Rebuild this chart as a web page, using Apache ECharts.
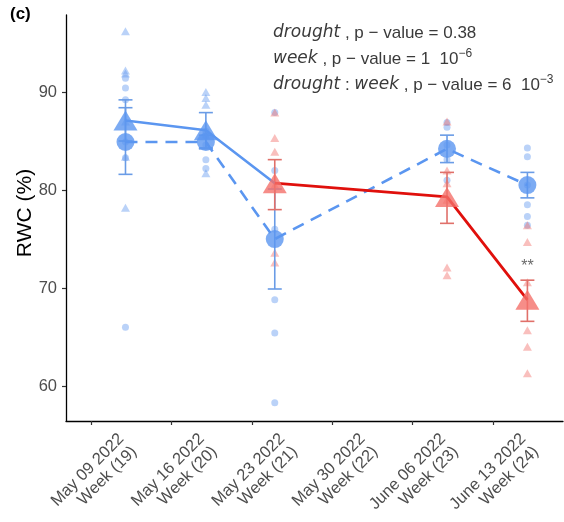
<!DOCTYPE html>
<html><head><meta charset="utf-8">
<script src="https://cdn.jsdelivr.net/npm/echarts@6/dist/echarts.min.js"></script>
<style>html,body{margin:0;padding:0;background:#fff}#c{width:564px;height:522px}</style>
</head><body><div id="c"></div>
<script>
// ---- data ----
const tickDays = [0, 7, 14, 21, 28, 35];          // days since May 09 2022
const tickLabels = ['May 09 2022\nWeek (19)', 'May 16 2022\nWeek (20)', 'May 23 2022\nWeek (21)',
                    'May 30 2022\nWeek (22)', 'June 06 2022\nWeek (23)', 'June 13 2022\nWeek (24)'];
const yTicks = [60, 70, 80, 90];
const sampleDays = [3, 10, 16, 31, 38];
const droughtPhase = ['pre', 'pre', 'post', 'post', 'post'];

const controlMean = [84.9, 84.9, 75.0, 84.2, 80.5];
const controlLow  = [81.6, 84.2, 69.9, 82.8, 79.2];
const controlHigh = [88.4, 85.6, 80.1, 85.6, 81.8];
const droughtMean = [87.1, 86.1, 80.7, 79.3, 68.8];
const droughtLow  = [85.0, 84.3, 78.0, 76.6, 66.6];
const droughtHigh = [89.2, 87.9, 83.1, 81.8, 70.8];

const controlRaw = [
  [91.4, 90.4, 89.2, 84.9, 83.3, 66.0],
  [86.0, 85.5, 84.6, 83.1, 82.2],
  [87.9, 82.0, 76.0, 68.8, 65.4, 58.3],
  [86.9, 86.4, 84.6, 83.1, 81.0],
  [84.3, 83.4, 80.5, 78.5, 77.3, 76.4]
];
const droughtRaw = [
  [96.2, 92.2, 91.9, 87.0, 83.4, 78.2],
  [90.0, 89.4, 88.7, 86.0, 85.6, 81.7],
  [87.9, 85.3, 83.9, 80.5, 73.6, 72.6],
  [87.0, 82.0, 80.7, 79.0, 72.1, 71.3],
  [76.4, 74.7, 70.6, 65.7, 64.0, 61.3]
];
const sigMarks = [{ day: 38, value: 72.2, text: '**' }];

// ---- styles ----
const BLUE = '#5B96F0', RED = '#F4716A', REDLINE = '#E0100C';
const BLUE_RAW = 'rgba(98,153,240,0.55)', RED_RAW = 'rgba(242,110,104,0.55)';
const BLUE_ERR = '#6A9CE6', RED_ERR = '#E0706A';
const FONT = '"Liberation Sans", Arial, sans-serif';
const IFONT = '"DejaVu Sans", sans-serif';
const phaseColor = p => p === 'pre' ? BLUE : RED;
const X_MIN = -2.18, X_MAX = 41.1, Y_MIN = 56.43, Y_MAX = 97.86;

function rawData(raw) {
  const out = [];
  raw.forEach((vals, i) => vals.forEach(v => out.push([sampleDays[i], v])));
  return out;
}
function errSeries(lows, highs, colors) {
  return {
    type: 'custom', z: 3, silent: true,
    encode: { x: 0, y: [1, 2] },
    data: sampleDays.map((d, i) => [d, lows[i], highs[i], i]),
    renderItem(params, api) {
      const x = api.value(0), lo = api.value(1), hi = api.value(2);
      const p1 = api.coord([x, lo]), p2 = api.coord([x, hi]);
      const w = 7;
      const style = { stroke: colors[params.dataIndex], lineWidth: 1.6, fill: null };
      return { type: 'group', children: [
        { type: 'line', shape: { x1: p1[0], y1: p1[1], x2: p2[0], y2: p2[1] }, style },
        { type: 'line', shape: { x1: p1[0] - w, y1: p1[1], x2: p1[0] + w, y2: p1[1] }, style },
        { type: 'line', shape: { x1: p2[0] - w, y1: p2[1], x2: p2[0] + w, y2: p2[1] }, style }
      ]};
    }
  };
}

const droughtErrColors = droughtPhase.map(p => p === 'pre' ? BLUE_ERR : RED_ERR);
const preIdx = droughtPhase.map((p, i) => i).filter(i => droughtPhase[i] === 'pre');
const postIdx = droughtPhase.map((p, i) => i).filter(i => droughtPhase[i] === 'post');
const firstPost = postIdx[0];

const baseGraphics = [
  { id: 'tag', type: 'text', left: 10, top: 6, style: { text: '(c)', font: 'bold 17px ' + FONT, fill: '#000' } },
  { id: 'stats', type: 'text', left: 273, top: 20, style: {
    text: '{i|drought} , p − value = 0.38\n{i|week} , p − value = 1  10{s|−6}\n{i|drought} : {i|week} , p − value = 6  10{s|−3}',
    font: '17px ' + FONT, fill: '#3A3A3A', lineHeight: 26,
    rich: {
      i: { fontStyle: 'italic', fontSize: 17, fill: '#3A3A3A', fontFamily: IFONT },
      s: { fontSize: 12, fill: '#3A3A3A', fontFamily: FONT, padding: [0, 0, 10, 0] }
    }
  } }
];

const chart = echarts.init(document.getElementById('c'), null, { renderer: 'canvas' });
chart.setOption({
  animation: false,
  textStyle: { fontFamily: FONT },
  grid: { left: 66, right: 1, top: 15, bottom: 101, containLabel: false, outerBoundsMode: 'none' },
  xAxis: {
    type: 'value', min: X_MIN, max: X_MAX,
    splitLine: { show: false },
    axisLine: { show: true, onZero: false, lineStyle: { color: '#000', width: 1.3 } },
    axisTick: { show: true, customValues: tickDays, length: 4, lineStyle: { color: '#333', width: 1.2 } },
    axisLabel: { show: false }
  },
  yAxis: {
    type: 'value', min: Y_MIN, max: Y_MAX,
    name: 'RWC (%)', nameLocation: 'middle', nameGap: 30, nameRotate: 90, nameMoveOverlap: false,
    nameTextStyle: { color: '#000', fontSize: 21, padding: [0, 0, 0, 10] },
    splitLine: { show: false },
    axisLine: { show: true, onZero: false, lineStyle: { color: '#000', width: 1.3 } },
    axisTick: { show: true, customValues: yTicks, length: 4, lineStyle: { color: '#333', width: 1.2 } },
    axisLabel: { customValues: yTicks, color: '#4D4D4D', fontSize: 16.5, margin: 9 }
  },
  graphic: baseGraphics,
  series: [
    { type: 'scatter', z: 1, symbol: 'circle', symbolSize: 7, itemStyle: { color: BLUE_RAW }, data: rawData(controlRaw) },
    { type: 'scatter', z: 1, symbol: 'triangle', symbolSize: [9, 8],
      data: rawData(droughtRaw).map(d => ({ value: d, itemStyle: { color: droughtPhase[sampleDays.indexOf(d[0])] === 'pre' ? BLUE_RAW : RED_RAW } })) },
    errSeries(controlLow, controlHigh, sampleDays.map(() => BLUE_ERR)),
    errSeries(droughtLow, droughtHigh, droughtErrColors),
    { type: 'line', z: 4, symbol: 'none', lineStyle: { color: BLUE, width: 2.6, type: [12, 8] },
      data: sampleDays.map((d, i) => [d, controlMean[i]]) },
    { type: 'line', z: 4, symbol: 'none', lineStyle: { color: BLUE, width: 2.6 },
      data: preIdx.concat([firstPost]).map(i => [sampleDays[i], droughtMean[i]]) },
    { type: 'line', z: 4, symbol: 'none', lineStyle: { color: REDLINE, width: 2.8 },
      data: postIdx.map(i => [sampleDays[i], droughtMean[i]]) },
    { type: 'scatter', z: 5, symbol: 'circle', symbolSize: 18, itemStyle: { color: BLUE },
      data: sampleDays.map((d, i) => [d, controlMean[i]]) },
    { type: 'scatter', z: 5, symbol: 'triangle', symbolSize: [24, 20],
      data: sampleDays.map((d, i) => ({ value: [d, droughtMean[i]], itemStyle: { color: phaseColor(droughtPhase[i]) } })) },
    { type: 'scatter', z: 6, symbol: 'circle', symbolSize: 2, itemStyle: { color: 'rgba(0,0,0,0)' },
      label: { show: true, position: 'inside', color: '#444', fontSize: 16, formatter: p => sigMarks[p.dataIndex].text },
      data: sigMarks.map(s => [s.day, s.value]) }
  ]
});

// rotated two-line tick labels, placed from the axis scale
const axisY = chart.convertToPixel({ yAxisIndex: 0 }, Y_MIN);
const LH = 18, R = Math.PI / 4;
const labelGraphics = tickDays.map((d, i) => {
  const tx = chart.convertToPixel({ xAxisIndex: 0 }, d);
  return {
    id: 'xl' + i, type: 'text', x: tx + 24, y: axisY + 9, rotation: R,
    style: { text: tickLabels[i], font: '16.5px ' + FONT, fill: '#4D4D4D',
             align: 'right', verticalAlign: 'top', lineHeight: LH }
  };
});
chart.setOption({ graphic: baseGraphics.concat(labelGraphics) });
</script></body></html>
